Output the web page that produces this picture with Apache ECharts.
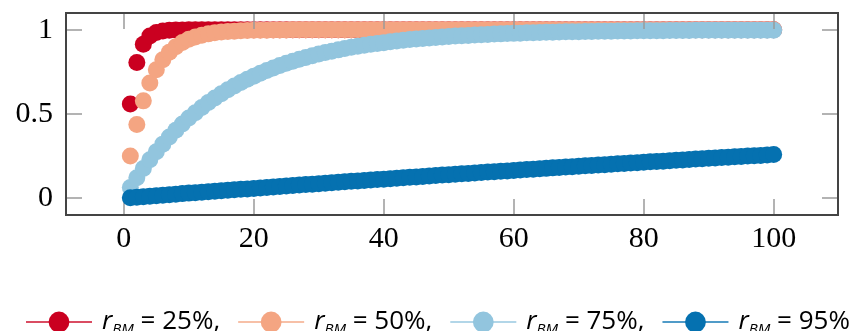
<!DOCTYPE html>
<html>
<head>
<meta charset="utf-8">
<script src="https://cdn.jsdelivr.net/npm/echarts@6/dist/echarts.min.js"></script>
<style>
  html, body { margin: 0; padding: 0; background: #fff; }
  #chart { width: 861px; height: 331px; }
</style>
</head>
<body>
<div id="chart"></div>
<script>
// x positions (trial number)
const steps = [
  1, 2, 3, 4, 5, 6, 7, 8, 9, 10, 11, 12, 13, 14, 15, 16, 17, 18, 19, 20,
  21, 22, 23, 24, 25, 26, 27, 28, 29, 30, 31, 32, 33, 34, 35, 36, 37, 38, 39, 40,
  41, 42, 43, 44, 45, 46, 47, 48, 49, 50, 51, 52, 53, 54, 55, 56, 57, 58, 59, 60,
  61, 62, 63, 64, 65, 66, 67, 68, 69, 70, 71, 72, 73, 74, 75, 76, 77, 78, 79, 80,
  81, 82, 83, 84, 85, 86, 87, 88, 89, 90, 91, 92, 93, 94, 95, 96, 97, 98, 99, 100
];

const r25 = [
  0.56, 0.806, 0.915, 0.963, 0.984, 0.993, 0.997, 0.999, 0.999, 1, 1, 1, 1, 1, 1, 1, 1, 1, 1, 1,
  1, 1, 1, 1, 1, 1, 1, 1, 1, 1, 1, 1, 1, 1, 1, 1, 1, 1, 1, 1,
  1, 1, 1, 1, 1, 1, 1, 1, 1, 1, 1, 1, 1, 1, 1, 1, 1, 1, 1, 1,
  1, 1, 1, 1, 1, 1, 1, 1, 1, 1, 1, 1, 1, 1, 1, 1, 1, 1, 1, 1,
  1, 1, 1, 1, 1, 1, 1, 1, 1, 1, 1, 1, 1, 1, 1, 1, 1, 1, 1, 1
];

const r50 = [
  0.25, 0.438, 0.578, 0.684, 0.763, 0.822, 0.867, 0.9, 0.925, 0.944,
  0.958, 0.968, 0.976, 0.982, 0.987, 0.99, 0.992, 0.994, 0.996, 0.997,
  0.998, 0.998, 0.999, 0.999, 0.999, 1, 1, 1, 1, 1, 1, 1, 1, 1, 1, 1, 1, 1, 1, 1,
  1, 1, 1, 1, 1, 1, 1, 1, 1, 1, 1, 1, 1, 1, 1, 1, 1, 1, 1, 1,
  1, 1, 1, 1, 1, 1, 1, 1, 1, 1, 1, 1, 1, 1, 1, 1, 1, 1, 1, 1,
  1, 1, 1, 1, 1, 1, 1, 1, 1, 1, 1, 1, 1, 1, 1, 1, 1, 1, 1, 1
];

const r75 = [
  0.063, 0.121, 0.176, 0.228, 0.276, 0.321, 0.364, 0.403, 0.441, 0.476,
  0.508, 0.539, 0.568, 0.595, 0.62, 0.644, 0.666, 0.687, 0.707, 0.725,
  0.742, 0.758, 0.773, 0.788, 0.801, 0.813, 0.825, 0.836, 0.846, 0.856,
  0.865, 0.873, 0.881, 0.889, 0.896, 0.902, 0.908, 0.914, 0.919, 0.924,
  0.929, 0.933, 0.938, 0.942, 0.945, 0.949, 0.952, 0.955, 0.958, 0.96,
  0.963, 0.965, 0.967, 0.969, 0.971, 0.973, 0.975, 0.976, 0.978, 0.979,
  0.98, 0.982, 0.983, 0.984, 0.985, 0.986, 0.987, 0.988, 0.988, 0.989,
  0.99, 0.99, 0.991, 0.992, 0.992, 0.993, 0.993, 0.993, 0.994, 0.994,
  0.995, 0.995, 0.995, 0.996, 0.996, 0.996, 0.996, 0.997, 0.997, 0.997,
  0.997, 0.997, 0.998, 0.998, 0.998, 0.998, 0.998, 0.998, 0.998, 0.998
];

const r95 = [
  0.003, 0.006, 0.009, 0.012, 0.015, 0.018, 0.021, 0.024, 0.027, 0.03,
  0.032, 0.035, 0.038, 0.041, 0.044, 0.047, 0.05, 0.053, 0.055, 0.058,
  0.061, 0.064, 0.067, 0.07, 0.072, 0.075, 0.078, 0.081, 0.083, 0.086,
  0.089, 0.092, 0.094, 0.097, 0.1, 0.102, 0.105, 0.108, 0.111, 0.113,
  0.116, 0.118, 0.121, 0.124, 0.126, 0.129, 0.132, 0.134, 0.137, 0.139,
  0.142, 0.145, 0.147, 0.15, 0.152, 0.155, 0.157, 0.16, 0.162, 0.165,
  0.167, 0.17, 0.172, 0.175, 0.177, 0.18, 0.182, 0.185, 0.187, 0.19,
  0.192, 0.194, 0.197, 0.199, 0.202, 0.204, 0.206, 0.209, 0.211, 0.213,
  0.216, 0.218, 0.22, 0.223, 0.225, 0.227, 0.23, 0.232, 0.234, 0.237,
  0.239, 0.241, 0.243, 0.246, 0.248, 0.25, 0.252, 0.254, 0.257, 0.259
];

const seriesNames = ['25%', '50%', '75%', '95%'];
const seriesColors = ['#ca0020', '#f4a582', '#92c5de', '#0571b0'];
const seriesValues = [r25, r50, r75, r95];

const xStep = 20;   // x ticks: 0, 20, ... 100
const yStep = 0.5;  // y ticks: 0, 0.5, 1

const chart = echarts.init(document.getElementById('chart'));

const frameLine = { show: true, onZero: false, lineStyle: { color: '#444', width: 2 } };
const tickStyle = { color: '#9a9a9a', width: 1.5 };
const labelFont = { color: '#000', fontFamily: 'Liberation Serif', fontSize: 30 };

const makeXAxis = (position, showLabel) => ({
  type: 'value',
  position,
  min: -8.9,
  max: 109.9,
  minInterval: xStep,
  maxInterval: xStep,
  z: 5,
  axisLine: frameLine,
  splitLine: { show: false },
  axisTick: { show: true, inside: true, length: 16, lineStyle: tickStyle },
  axisLabel: { show: showLabel, margin: 9, showMinLabel: false, showMaxLabel: false, ...labelFont }
});

const makeYAxis = (position, showLabel) => ({
  type: 'value',
  position,
  min: -0.1,
  max: 1.1,
  minInterval: yStep,
  maxInterval: yStep,
  z: 5,
  axisLine: frameLine,
  splitLine: { show: false },
  axisTick: { show: true, inside: true, length: 16, lineStyle: tickStyle },
  axisLabel: { show: showLabel, margin: 13, showMinLabel: false, showMaxLabel: false, ...labelFont }
});

const option = {
  animation: false,
  grid: {
    left: 66, right: 23, top: 13, bottom: 116,
    outerBoundsMode: 'none',
    // frame drawn on top so the end ticks do not show on it
    show: true,
    z: 10,
    borderColor: '#444',
    borderWidth: 2,
    backgroundColor: 'transparent'
  },
  xAxis: [makeXAxis('bottom', true), makeXAxis('top', false)],
  yAxis: [makeYAxis('left', true), makeYAxis('right', false)],
  legend: {
    left: 20,
    top: 304,
    itemWidth: 66,
    itemHeight: 26,
    itemGap: 17,
    lineStyle: { width: 2, opacity: 0.7 },
    data: seriesNames.map(n => 'r' + n),
    formatter: name => {
      const pct = name.slice(1);
      const tail = pct === '95%' ? ' = ' + pct : ' = ' + pct + ',';
      return '{i|r}{s|BM}{t|' + tail + '}';
    },
    textStyle: {
      padding: [0, 0, 0, 5],
      rich: {
        i: { fontFamily: 'Open Sans', fontStyle: 'italic', fontSize: 26, lineHeight: 30, color: '#000' },
        s: { fontFamily: 'Open Sans', fontStyle: 'italic', fontSize: 15, lineHeight: 26, verticalAlign: 'bottom', color: '#000' },
        t: { fontFamily: 'Open Sans', fontSize: 26, lineHeight: 30, color: '#000' }
      }
    }
  },
  series: seriesValues.map((vals, i) => ({
    name: 'r' + seriesNames[i],
    type: 'line',
    xAxisIndex: 0,
    yAxisIndex: 0,
    data: steps.map((x, j) => [x, vals[j]]),
    symbol: 'circle',
    symbolSize: 17,
    showSymbol: true,
    showAllSymbol: true,
    itemStyle: { color: seriesColors[i] },
    lineStyle: { color: seriesColors[i], width: 2, opacity: 0 },
    emphasis: { disabled: true },
    z: 2 + i
  }))
};

chart.setOption(option);
</script>
</body>
</html>
